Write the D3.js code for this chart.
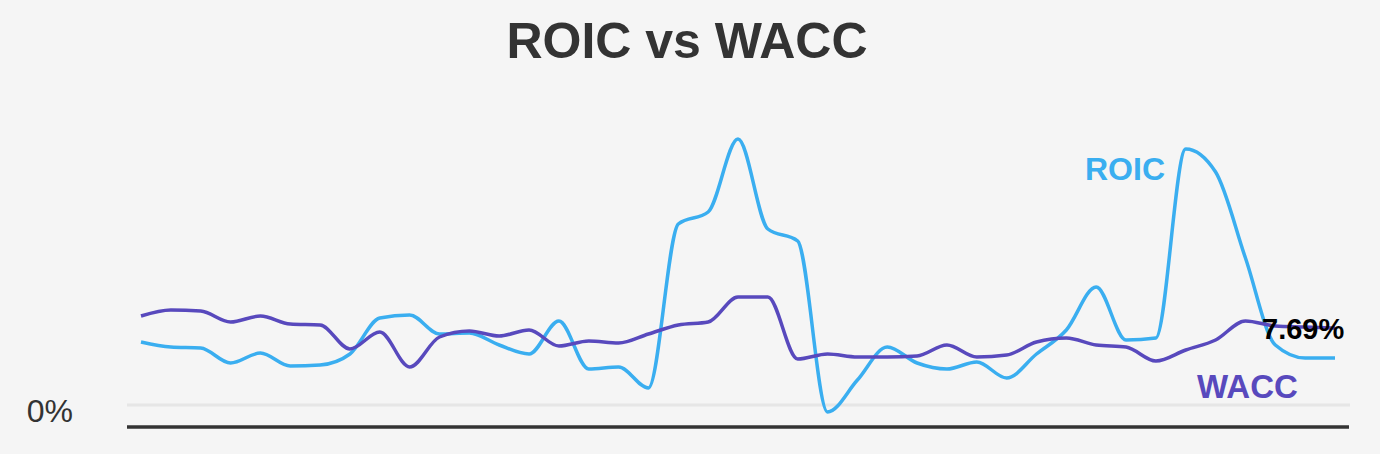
<!DOCTYPE html>
<html>
<head>
<meta charset="utf-8">
<script src="https://cdn.jsdelivr.net/npm/d3@7"></script>
<style>
  html, body { margin: 0; padding: 0; background: #f5f5f5; }
  svg { display: block; font-family: "Liberation Sans", Arial, Helvetica, sans-serif; }
</style>
</head>
<body>
<svg id="chart" width="1380" height="454"></svg>
<script>
const categories = [
  "Q1 2014","Q2 2014","Q3 2014","Q4 2014",
  "Q1 2015","Q2 2015","Q3 2015","Q4 2015",
  "Q1 2016","Q2 2016","Q3 2016","Q4 2016",
  "Q1 2017","Q2 2017","Q3 2017","Q4 2017",
  "Q1 2018","Q2 2018","Q3 2018","Q4 2018",
  "Q1 2019","Q2 2019","Q3 2019","Q4 2019",
  "Q1 2020","Q2 2020","Q3 2020","Q4 2020",
  "Q1 2021","Q2 2021","Q3 2021","Q4 2021",
  "Q1 2022","Q2 2022","Q3 2022","Q4 2022",
  "Q1 2023","Q2 2023","Q3 2023","Q4 2023",
  "Q1 2024"
];
const roic = [
  6.3, 5.8, 5.7, 4.2, 5.2, 3.9, 4.0, 5.1, 8.7, 9.0,
  7.1, 7.2, 6.0, 5.1, 8.4, 3.6, 3.8, 1.7, 18.1, 19.3,
  26.6, 17.6, 16.4, -0.7, 2.5, 5.8, 4.2, 3.6, 4.3, 2.7,
  5.1, 7.5, 11.8, 6.5, 6.7, 25.6, 23.3, 14.7, 6.0, 4.7,
  4.7
];
const wacc = [
  8.9, 9.5, 9.4, 8.3, 8.9, 8.1, 8.0, 5.6, 7.3, 3.8,
  6.8, 7.4, 6.9, 7.5, 5.9, 6.4, 6.2, 7.1, 8.0, 8.3,
  10.8, 10.8, 4.6, 5.1, 4.8, 4.8, 4.9, 6.0, 4.8, 5.0,
  6.3, 6.7, 6.0, 5.8, 4.4, 5.5, 6.5, 8.4, 7.9, 7.8,
  7.69
];
const yTicks = [0];
const title = "ROIC vs WACC";

const svg = d3.select("#chart");
const W = 1380, H = 454;

svg.append("rect").attr("width", W).attr("height", H).attr("fill", "#f5f5f5");

const x = d3.scalePoint().domain(categories).range([141, 1335]);
const y = d3.scaleLinear().domain([0, 30]).range([405, 105]);

// Title
svg.append("text")
  .attr("x", 687).attr("y", 58)
  .attr("text-anchor", "middle")
  .attr("font-size", 50).attr("font-weight", "bold")
  .attr("fill", "#333333")
  .text(title);

// Gridline at 0
svg.selectAll(".grid").data(yTicks).enter().append("line")
  .attr("x1", 127).attr("x2", 1350)
  .attr("y1", d => y(d)).attr("y2", d => y(d))
  .attr("stroke", "#e6e6e6").attr("stroke-width", 3);

// Y axis tick labels
svg.selectAll(".ylab").data(yTicks).enter().append("text")
  .attr("x", 73).attr("y", d => y(d) + 17)
  .attr("text-anchor", "end")
  .attr("font-size", 32)
  .attr("fill", "#333333")
  .text(d => d + "%");

// Baseline (x axis)
const xAxis = d3.axisBottom(x).tickSize(0).tickFormat("");
const gx = svg.append("g").attr("transform", "translate(0,427)").call(xAxis);
gx.select(".domain").remove();
svg.append("line")
  .attr("x1", 127).attr("x2", 1349)
  .attr("y1", 427).attr("y2", 427)
  .attr("stroke", "#333333").attr("stroke-width", 3.5);

const line = d3.line()
  .x((d, i) => x(categories[i]))
  .y(d => y(d))
  .curve(d3.curveMonotoneX);

svg.append("path").datum(roic)
  .attr("d", line)
  .attr("fill", "none")
  .attr("stroke", "#3aaef0")
  .attr("stroke-width", 3.5)
  .attr("stroke-linejoin", "round");

svg.append("path").datum(wacc)
  .attr("d", line)
  .attr("fill", "none")
  .attr("stroke", "#5849bd")
  .attr("stroke-width", 3.5)
  .attr("stroke-linejoin", "round");

// Series labels
svg.append("text")
  .attr("x", 1085).attr("y", 180)
  .attr("font-size", 32).attr("font-weight", "bold")
  .attr("fill", "#3aaef0")
  .text("ROIC");

svg.append("text")
  .attr("x", 1197).attr("y", 398)
  .attr("font-size", 33).attr("font-weight", "bold")
  .attr("fill", "#5849bd")
  .text("WACC");

// Last value label
const last = wacc.length - 1;
svg.append("text")
  .attr("x", 1262).attr("y", 339)
  .attr("font-size", 29).attr("font-weight", "bold")
  .attr("fill", "#000000")
  .text(wacc[last].toFixed(2) + "%");
</script>
</body>
</html>
